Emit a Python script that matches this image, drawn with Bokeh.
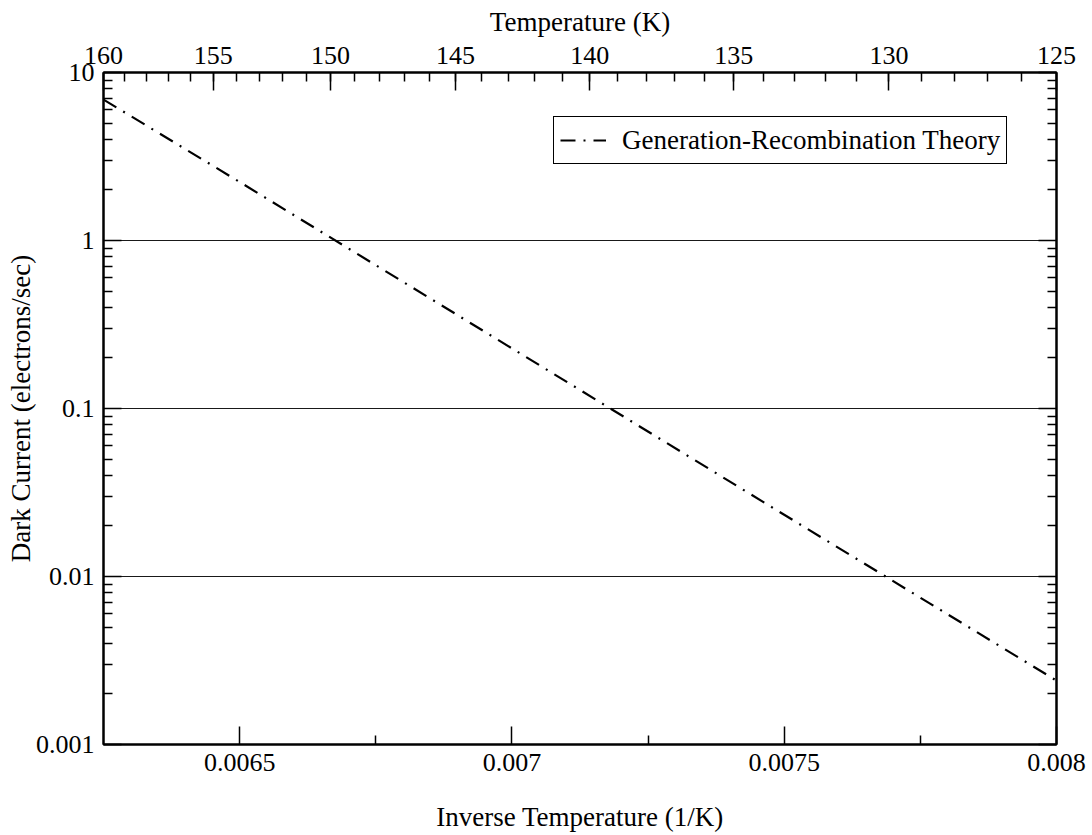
from bokeh.plotting import figure
from bokeh.models import (Range1d, LinearAxis, LogAxis, FixedTicker, CustomJSTickFormatter, Legend)
from bokeh.embed import file_html
from bokeh.resources import INLINE

# Data
inverse_temp = [0.00625, 0.0065, 0.007, 0.0075, 0.008]
dark_current = [6.9, 2.23, 0.228, 0.0233, 0.0024]
series_label = "Generation-Recombination Theory"

# Axis ticks
x_major = [0.0065, 0.007, 0.0075, 0.008]
x_minor = [0.00675, 0.00725, 0.00775]
temp_major = [160, 155, 150, 145, 140, 135, 130, 125]
temp_minor = list(range(126, 160))
y_major = [0.001, 0.01, 0.1, 1, 10]
y_grid = [0.01, 0.1, 1]

FONT = "Liberation Serif"
FS = "26px"
FS_LABEL = "27px"

p = figure(frame_width=953, frame_height=672, y_axis_type="log",
           x_range=Range1d(0.00625, 0.008), y_range=Range1d(0.001, 10),
           output_backend="svg", toolbar_location=None,
           min_border_left=103, min_border_right=30, min_border_top=72, min_border_bottom=0)
p.background_fill_color = "white"
p.border_fill_color = "white"
p.outline_line_color = "black"
p.outline_line_width = 2

y_minor = [k * d for d in [0.001, 0.01, 0.1, 1] for k in range(2, 10)]

def style_axis(ax):
    ax.axis_line_width = 2
    ax.axis_line_color = "black"
    ax.major_tick_in = 18
    ax.major_tick_out = 0
    ax.minor_tick_in = 9
    ax.minor_tick_out = 0
    ax.major_tick_line_width = 1.5
    ax.minor_tick_line_width = 1.5
    ax.major_tick_line_color = "black"
    ax.minor_tick_line_color = "black"
    ax.major_label_text_font = FONT
    ax.major_label_text_font_size = FS
    ax.major_label_text_color = "black"
    ax.axis_label_text_font = FONT
    ax.axis_label_text_font_size = FS_LABEL
    ax.axis_label_text_font_style = "normal"
    ax.axis_label_text_color = "black"

# bottom axis
xb = p.xaxis[0]
xb.ticker = FixedTicker(ticks=x_major, minor_ticks=x_minor)
xb.formatter = CustomJSTickFormatter(code="return String(parseFloat(tick.toPrecision(4)))")
xb.axis_label = "Inverse Temperature (1/K)"
style_axis(xb)
xb.major_label_standoff = 9
xb.axis_label_standoff = 28

# left axis
yl = p.yaxis[0]
yl.ticker = FixedTicker(ticks=y_major, minor_ticks=y_minor)
yl.formatter = CustomJSTickFormatter(code="return String(parseFloat(tick.toPrecision(3)))")
yl.axis_label = "Dark Current (electrons/sec)"
style_axis(yl)
yl.major_label_standoff = 9
yl.axis_label_standoff = -3

# top axis (temperature)
xt = LinearAxis(ticker=FixedTicker(ticks=[1.0 / t for t in temp_major],
                                   minor_ticks=[1.0 / t for t in temp_minor]),
                formatter=CustomJSTickFormatter(code="return String(Math.round(1/tick))"),
                axis_label="Temperature (K)")
style_axis(xt)
xt.major_label_standoff = 9
xt.axis_label_standoff = 7
p.add_layout(xt, "above")

# right axis
yr = LogAxis(ticker=FixedTicker(ticks=y_major, minor_ticks=y_minor))
style_axis(yr)
yr.major_label_text_alpha = 0
yr.major_label_text_font_size = "10px"
yr.major_label_standoff = 0
p.add_layout(yr, "right")

# grid
p.xgrid.visible = False
p.ygrid[0].ticker = FixedTicker(ticks=y_grid)
p.ygrid.grid_line_color = "black"
p.ygrid.grid_line_width = 1
p.ygrid.grid_line_alpha = 0.9

r = p.line(inverse_temp, dark_current, line_color="black", line_width=2.2, line_dash="15 8 2 8")

legend = Legend(items=[(series_label, [r])], location=(450, 580))
legend.margin = 0
legend.padding = 6
legend.label_text_font = FONT
legend.label_text_font_size = FS_LABEL
legend.label_text_color = "black"
legend.glyph_width = 46
legend.glyph_height = 34
legend.label_height = 34
legend.label_standoff = 16
legend.border_line_color = "black"
legend.border_line_width = 1
legend.border_line_alpha = 1
legend.background_fill_color = "white"
legend.background_fill_alpha = 1
p.add_layout(legend, "center")

open("out.html", "w").write(file_html(p, INLINE))
